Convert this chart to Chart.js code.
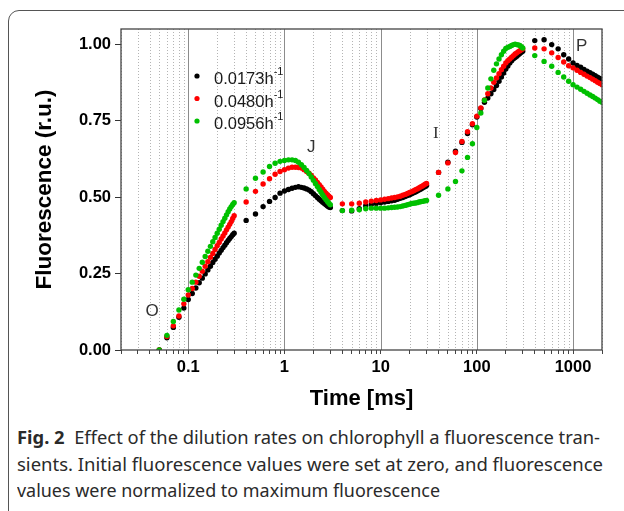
<!DOCTYPE html>
<html lang="en">
<head>
    <meta charset="utf-8">
    <title>Fig. 2 - chlorophyll a fluorescence transients</title>
    <script src="https://cdn.jsdelivr.net/npm/chart.js"></script>
    <style>
        html, body {
            margin: 0;
            padding: 0;
            background: #fff;
        }

        body {
            width: 624px;
            height: 511px;
            overflow: hidden;
            position: relative;
            font-family: "Noto Sans", sans-serif;
        }

        .frame {
            position: absolute;
            left: 8px;
            top: 10px;
            width: 700px;
            height: 530px;
            border: 1px solid #555;
            border-radius: 11px;
        }

        #chart {
            position: absolute;
            left: 0;
            top: 0;
        }

        .caption {
            position: absolute;
            left: 17px;
            top: 424px;
            font-size: 17.5px;
            line-height: 26.5px;
            color: #2a2a2a;
            white-space: nowrap;
        }

        .caption span {
            display: block;
            width: max-content;
            transform-origin: left center;
        }
    </style>
</head>
<body>
    <div class="frame"></div>
    <canvas id="chart" width="624" height="420"></canvas>

    <div class="caption">
        <span data-w="583"><b>Fig. 2</b>&nbsp; Effect of the dilution rates on chlorophyll a fluorescence tran-</span>
        <span data-w="586">sients. Initial fluorescence values were set at zero, and fluorescence</span>
        <span data-w="423">values were normalized to maximum fluorescence</span>
    </div>

    <script>
        // time points (ms)
        const timeMs = [
            0.05, 0.06, 0.07, 0.08, 0.09, 0.10, 0.11, 0.12, 0.13, 0.14, 0.15, 0.16, 0.17,
            0.18, 0.19, 0.20, 0.21, 0.22, 0.23, 0.24, 0.25, 0.26, 0.27, 0.28, 0.29, 0.30,
            0.4, 0.5, 0.6, 0.7, 0.8, 0.9, 1.0, 1.1, 1.2, 1.3, 1.4, 1.5, 1.6, 1.7,
            1.8, 1.9, 2.0, 2.1, 2.2, 2.3, 2.4, 2.5, 2.6, 2.7, 2.8, 2.9, 3.0,
            4, 5, 6, 7, 8, 9, 10, 11, 12, 13, 14, 15, 16, 17,
            18, 19, 20, 21, 22, 23, 24, 25, 26, 27, 28, 29, 30,
            40, 50, 60, 70, 80, 90, 100, 110, 120, 130, 140, 150, 160, 170,
            180, 190, 200, 210, 220, 230, 240, 250, 260, 270, 280, 290, 300,
            400, 500, 600, 700, 800, 900, 1000, 1100, 1200, 1300, 1400, 1500, 1600,
            1700, 1800, 1900, 2000
        ];

        // 0.0173 h-1
        const fluoLow = [
            0, 0.040, 0.074, 0.107, 0.137, 0.165, 0.185, 0.203, 0.220, 0.235, 0.249, 0.262, 0.274,
            0.286, 0.297, 0.307, 0.317, 0.326, 0.335, 0.343, 0.351, 0.358, 0.365, 0.371, 0.377, 0.382,
            0.424, 0.445, 0.469, 0.486, 0.499, 0.513, 0.520, 0.525, 0.529, 0.532, 0.534, 0.532, 0.530, 0.527,
            0.523, 0.518, 0.511, 0.505, 0.499, 0.493, 0.488, 0.483, 0.479, 0.475, 0.471, 0.468, 0.466,
            0.456, 0.455, 0.462, 0.472, 0.476, 0.479, 0.482, 0.484, 0.486, 0.488, 0.490, 0.493, 0.496, 0.499,
            0.502, 0.505, 0.508, 0.511, 0.514, 0.517, 0.520, 0.523, 0.526, 0.529, 0.532, 0.535, 0.538,
            0.581, 0.614, 0.650, 0.679, 0.708, 0.737, 0.762, 0.790, 0.810, 0.824, 0.838, 0.852, 0.865, 0.879,
            0.893, 0.906, 0.919, 0.929, 0.939, 0.946, 0.953, 0.957, 0.961, 0.966, 0.970, 0.974, 0.977,
            1.012, 1.015, 0.999, 0.985, 0.966, 0.952, 0.939, 0.931, 0.925, 0.918, 0.912, 0.907, 0.902,
            0.897, 0.892, 0.888, 0.884
        ];

        // 0.0480 h-1
        const fluoMid = [
            0, 0.044, 0.079, 0.111, 0.151, 0.180, 0.201, 0.222, 0.241, 0.258, 0.274, 0.289, 0.303,
            0.316, 0.329, 0.341, 0.352, 0.363, 0.373, 0.383, 0.393, 0.402, 0.411, 0.420, 0.430, 0.439,
            0.484, 0.519, 0.543, 0.560, 0.575, 0.584, 0.590, 0.595, 0.598, 0.598, 0.597, 0.595, 0.590, 0.584,
            0.578, 0.571, 0.563, 0.556, 0.548, 0.541, 0.533, 0.526, 0.519, 0.513, 0.508, 0.503, 0.499,
            0.478, 0.478, 0.480, 0.484, 0.487, 0.489, 0.491, 0.493, 0.495, 0.497, 0.499, 0.501, 0.503, 0.506,
            0.509, 0.512, 0.515, 0.518, 0.521, 0.524, 0.527, 0.530, 0.533, 0.536, 0.539, 0.542, 0.545,
            0.581, 0.612, 0.646, 0.682, 0.714, 0.740, 0.765, 0.792, 0.818, 0.838, 0.857, 0.876, 0.890, 0.904,
            0.917, 0.928, 0.939, 0.946, 0.952, 0.958, 0.963, 0.968, 0.972, 0.976, 0.979, 0.982, 0.985,
            0.988, 0.985, 0.972, 0.957, 0.942, 0.930, 0.923, 0.915, 0.908, 0.902, 0.896, 0.891, 0.886,
            0.881, 0.876, 0.872, 0.868
        ];

        // 0.0956 h-1
        const fluoHigh = [
            0, 0.048, 0.093, 0.131, 0.166, 0.197, 0.222, 0.245, 0.267, 0.287, 0.306, 0.323, 0.339,
            0.354, 0.368, 0.382, 0.395, 0.408, 0.420, 0.431, 0.442, 0.452, 0.461, 0.469, 0.476, 0.482,
            0.527, 0.562, 0.582, 0.600, 0.611, 0.617, 0.620, 0.622, 0.622, 0.620, 0.614, 0.606, 0.597, 0.587,
            0.577, 0.566, 0.555, 0.545, 0.535, 0.525, 0.516, 0.507, 0.499, 0.492, 0.486, 0.480, 0.475,
            0.456, 0.457, 0.459, 0.462, 0.464, 0.464, 0.464, 0.464, 0.465, 0.466, 0.467, 0.468, 0.469, 0.471,
            0.473, 0.475, 0.477, 0.479, 0.480, 0.481, 0.482, 0.484, 0.485, 0.486, 0.487, 0.488, 0.489,
            0.506, 0.527, 0.551, 0.586, 0.630, 0.675, 0.728, 0.775, 0.817, 0.857, 0.887, 0.915, 0.936, 0.952,
            0.966, 0.977, 0.986, 0.990, 0.993, 0.996, 0.999, 1.000, 0.999, 0.998, 0.996, 0.992, 0.988,
            0.963, 0.944, 0.928, 0.908, 0.893, 0.879, 0.868, 0.860, 0.853, 0.846, 0.840, 0.834, 0.829,
            0.824, 0.819, 0.814, 0.810
        ];

        const seriesNames = ['0.0173h', '0.0480h', '0.0956h'];
        const seriesColors = ['#000000', '#ff0000', '#00c000'];

        const xDecades = [0.01, 0.1, 1, 10, 100, 1000];
        const xLabels = [0.1, 1, 10, 100, 1000];
        const yTicks = [0, 0.25, 0.5, 0.75, 1.0];

        // phase labels O, J, I, P
        const phaseLabels = [
            { text: 'O', x: 0.042, y: 0.125, serif: false },
            { text: 'J', x: 1.9, y: 0.662, serif: false },
            { text: 'I', x: 37.5, y: 0.707, serif: true },
            { text: 'P', x: 1230, y: 0.993, serif: false }
        ];

        // minor grid / tick positions 2..9 x decade, between 0.02 and 2000
        const xGrid = [];
        xDecades.forEach(d => {
            for (let m = 1; m <= 9; m++) {
                const v = Number((m * d).toPrecision(6));
                if (v >= 0.02 && v <= 2000) xGrid.push(v);
            }
        });

        const isDecade = v => Math.abs(Math.log10(v) - Math.round(Math.log10(v))) < 1e-9;

        const plotDecor = {
            id: 'plotDecor',
            beforeDatasetsDraw(chart) {
                const { ctx, chartArea: a, scales: { x } } = chart;
                ctx.save();
                xGrid.forEach(v => {
                    const px = Math.round(x.getPixelForValue(v)) + 0.5;
                    ctx.beginPath();
                    if (isDecade(v)) {
                        ctx.setLineDash([]);
                        ctx.strokeStyle = '#8c8c8c';
                    } else {
                        ctx.setLineDash([1, 2]);
                        ctx.strokeStyle = '#b4b4b4';
                    }
                    ctx.lineWidth = 1;
                    ctx.moveTo(px, a.top);
                    ctx.lineTo(px, a.bottom);
                    ctx.stroke();
                });
                ctx.restore();
            },
            afterDatasetsDraw(chart) {
                const { ctx, chartArea: a, scales: { x, y } } = chart;
                ctx.save();

                // frame
                ctx.strokeStyle = '#444';
                ctx.lineWidth = 1.3;
                ctx.strokeRect(a.left, a.top, a.right - a.left, a.bottom - a.top);

                // phase letters
                ctx.fillStyle = '#333';
                ctx.textAlign = 'center';
                ctx.textBaseline = 'middle';
                phaseLabels.forEach(p => {
                    ctx.font = p.serif ? '17px "Liberation Serif"' : '17px "Liberation Sans"';
                    ctx.fillText(p.text, x.getPixelForValue(p.x), y.getPixelForValue(p.y));
                });

                // legend
                const lx = a.left + 76, ly = a.top + 47, step = 22.5;
                ctx.textAlign = 'left';
                ctx.textBaseline = 'alphabetic';
                seriesNames.forEach((name, i) => {
                    const cy = ly + i * step;
                    ctx.fillStyle = seriesColors[i];
                    ctx.beginPath();
                    ctx.arc(lx, cy, 2.6, 0, Math.PI * 2);
                    ctx.fill();
                    ctx.fillStyle = '#1a1a1a';
                    ctx.font = '16.5px "Liberation Sans"';
                    ctx.fillText(name, lx + 17, cy + 8);
                    const w = ctx.measureText(name).width;
                    ctx.font = '11px "Liberation Sans"';
                    ctx.fillText('-1', lx + 17 + w, cy - 1);
                });
                ctx.restore();
            }
        };

        const makeData = vals => timeMs.map((t, i) => ({ x: t, y: vals[i] }));

        new Chart(document.getElementById('chart'), {
            type: 'scatter',
            data: {
                datasets: [fluoLow, fluoMid, fluoHigh].map((vals, i) => ({
                    label: seriesNames[i],
                    data: makeData(vals),
                    backgroundColor: seriesColors[i],
                    pointBackgroundColor: seriesColors[i],
                    pointBorderWidth: 0,
                    pointRadius: 2.7,
                    pointHoverRadius: 2.7,
                    order: 3 - i
                }))
            },
            options: {
                responsive: false,
                animation: false,
                events: [],
                layout: { padding: { left: 0, right: 22, top: 29, bottom: 8 } },
                plugins: {
                    legend: { display: false },
                    tooltip: { enabled: false }
                },
                scales: {
                    x: {
                        type: 'logarithmic',
                        min: 0.02,
                        max: 2000,
                        afterBuildTicks: s => { s.ticks = xGrid.map(v => ({ value: v })); },
                        afterFit: s => { s.height = 62; },
                        border: { display: false },
                        grid: {
                            drawOnChartArea: false,
                            drawTicks: true,
                            tickLength: 4,
                            tickColor: '#444'
                        },
                        ticks: {
                            autoSkip: false,
                            maxRotation: 0,
                            minRotation: 0,
                            padding: 4,
                            color: '#000',
                            font: { family: '"Liberation Sans"', size: 16.5, weight: 'bold' },
                            callback: v => xLabels.some(l => Math.abs(l - v) < 1e-9) ? String(v) : ''
                        },
                        title: {
                            display: true,
                            text: 'Time [ms]',
                            color: '#000',
                            padding: 0,
                            font: { family: '"Liberation Sans"', size: 22, weight: 'bold' }
                        }
                    },
                    y: {
                        min: 0,
                        max: 1.05,
                        afterBuildTicks: s => { s.ticks = yTicks.map(v => ({ value: v })); },
                        afterFit: s => { s.width = 121; },
                        border: { display: false },
                        grid: {
                            drawOnChartArea: false,
                            drawTicks: true,
                            tickLength: 6,
                            tickColor: '#333'
                        },
                        ticks: {
                            padding: 4,
                            color: '#000',
                            font: { family: '"Liberation Sans"', size: 16.5, weight: 'bold' },
                            callback: v => Number(v).toFixed(2)
                        },
                        title: {
                            display: true,
                            text: 'Fluorescence (r.u.)',
                            color: '#000',
                            padding: { top: 31, bottom: 0 },
                            font: { family: '"Liberation Sans"', size: 22.5, weight: 'bold' }
                        }
                    }
                }
            },
            plugins: [plotDecor]
        });

        // squeeze caption lines to the widths of the original typesetting
        document.querySelectorAll('.caption span').forEach(el => {
            const target = Number(el.dataset.w);
            const k = target / el.getBoundingClientRect().width;
            el.style.transform = `scaleX(${k})`;
        });
    </script>
</body>
</html>
